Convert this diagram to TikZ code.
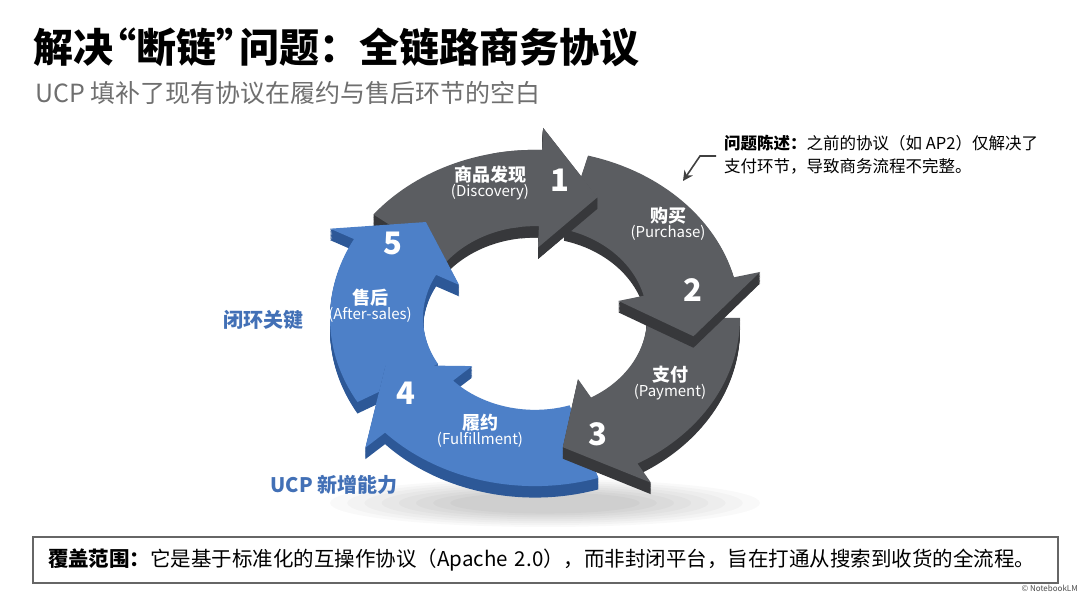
\documentclass[tikz,border=0pt]{standalone}
\usepackage{fontspec}
\setmainfont{Noto Sans CJK SC}
\usetikzlibrary{arrows.meta, calc}

\definecolor{ringdark}{HTML}{5B5D61}
\definecolor{ringdarkside}{HTML}{37383B}
\definecolor{ringblue}{HTML}{4D80C8}
\definecolor{ringblueside}{HTML}{2D5897}
\definecolor{ucpblue}{HTML}{4270B6}
\definecolor{subgrey}{HTML}{6F6F6F}

\tikzset{
  steplabel/.style={text=white, align=center, inner sep=0pt},
  stepnum/.style={text=white, font=\fontsize{31}{31}\selectfont\bfseries, inner sep=0pt},
  sidelabel/.style={text=ucpblue, font=\fontsize{20}{24}\selectfont\bfseries, inner sep=0pt},
  notearrow/.style={draw=black!75, line width=1.6pt, -{Stealth[length=10pt,width=10pt]}},
}

% tail angle, head base angle, tip angle, colour
\newcommand{\arrowpath}[3]{(#1:205) arc[start angle=#1, end angle=#2, radius=205]
  -- (#2:232) -- (#3:160) -- (#2:86) -- (#2:112)
  arc[start angle=#2, end angle=#1, radius=112] -- cycle}
\newcommand{\ringside}[4]{%
  \foreach \d in {1,...,14}{\fill[#4, yshift=-\d pt] \arrowpath{#1}{#2}{#3};}}
\newcommand{\ringtop}[4]{\fill[#4] \arrowpath{#1}{#2}{#3};}
\newcommand{\ringarrow}[5]{\ringside{#1}{#2}{#3}{#5}\ringtop{#1}{#2}{#3}{#4}}
\newcommand{\steptext}[2]{{\fontsize{18}{22}\selectfont\bfseries #1}\\{\fontsize{15}{18}\selectfont (#2)}}

\begin{document}
\begin{tikzpicture}[x=1pt, y=1pt]
\useasboundingbox (0,0) rectangle (1080,593);
\fill[white] (0,0) rectangle (1080,593);

\node[anchor=west, inner sep=0pt, font=\fontsize{40}{44}\selectfont\bfseries] (title) at (33,546)
  {解决\hspace{-0.42em}“断链”\hspace{-0.42em}问题：全链路商务协议};
\node[anchor=west, inner sep=0pt, text=subgrey, font=\fontsize{25}{29}\selectfont] (subtitle) at (35,500)
  {UCP 填补了现有协议在履约与售后环节的空白};

% soft shadow under the ring
\foreach \s in {1.00,0.92,...,0.40}
  \fill[black, opacity=0.022] (545,90) ellipse [x radius=215*\s, y radius=24*\s];

\begin{scope}[shift={(535,275)}, yscale=0.82]
  \ringarrow{142}{88}{67}{ringdark}{ringdarkside}
  \ringarrow{210}{152}{133}{ringblue}{ringblueside}
  \ringarrow{-72}{-137}{-159}{ringblue}{ringblueside}
  \ringarrow{0}{-60}{-80}{ringdark}{ringdarkside}
  \ringarrow{75}{14}{-8}{ringdark}{ringdarkside}
  \begin{scope}
    \clip (0,0) -- (40:320) -- (98:320) -- cycle;
    \ringside{142}{88}{67}{ringdarkside}
  \end{scope}
  \begin{scope}
    \clip (0,0) -- (40:320) -- (102:320) -- cycle;
    \ringtop{142}{88}{67}{ringdark}
  \end{scope}
\end{scope}

\node[steplabel] (lab1) at (490,410) {\steptext{商品发现}{Discovery}};
\node[steplabel] (lab2) at (668,369) {\steptext{购买}{Purchase}};
\node[steplabel] (lab3) at (670,210) {\steptext{支付}{Payment}};
\node[steplabel] (lab4) at (480,162) {\steptext{履约}{Fulfillment}};
\node[steplabel] (lab5) at (370,287) {\steptext{售后}{After-sales}};

\node[stepnum] (num1) at (560,413) {1};
\node[stepnum] (num2) at (693,303) {2};
\node[stepnum] (num3) at (598,159) {3};
\node[stepnum] (num4) at (406,200) {4};
\node[stepnum] (num5) at (393,350) {5};

\node[sidelabel] (closeloop) at (263,273) {闭环关键};
\node[sidelabel] (ucpnew) at (334,108) {UCP 新增能力};

\node[anchor=north west, align=left, inner sep=0pt, font=\fontsize{16.5}{23}\selectfont] (note) at (724,458)
  {\textbf{问题陈述：}之前的协议（如 AP2）仅解决了\\支付环节，导致商务流程不完整。};
\coordinate (notebend) at (700,437);
\coordinate (notetip) at (683,412);
\draw[notearrow] ($(note.west |- notebend)+(-8,0)$) -- (notebend) -- (notetip);

\node[draw=black!60, line width=1.3pt, fill=white, inner xsep=15pt, text width=995pt,
  minimum height=46pt, align=left, font=\fontsize{20.5}{24}\selectfont] (coverage) at (545.5,33)
  {\textbf{覆盖范围：}它是基于标准化的互操作协议（Apache 2.0），而非封闭平台，旨在打通从搜索到收货的全流程。};

\node[anchor=south east, inner sep=0pt, text=black!70, font=\fontsize{8}{9}\selectfont] (mark) at (1078,1) {© NotebookLM};
\end{tikzpicture}
\end{document}
